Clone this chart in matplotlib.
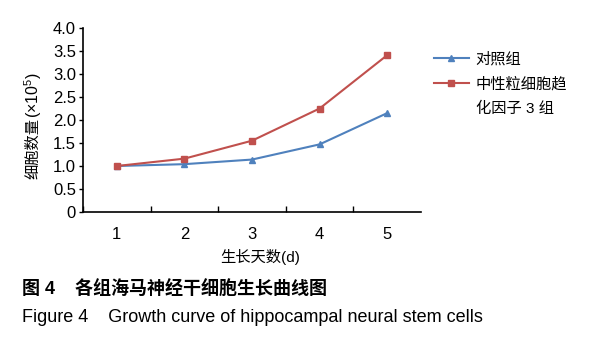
import matplotlib.pyplot as plt
from matplotlib.lines import Line2D

plt.rcParams['font.family'] = ['Liberation Sans', 'Noto Sans CJK SC', 'DejaVu Sans']
plt.rcParams['mathtext.fontset'] = 'custom'
plt.rcParams['mathtext.rm'] = 'Liberation Sans'
plt.rcParams['mathtext.it'] = 'Liberation Sans'

# Data
days = ['1', '2', '3', '4', '5']
control = [1.0, 1.04, 1.14, 1.47, 2.15]
cxcl3 = [1.0, 1.16, 1.55, 2.25, 3.41]
y_ticks = [0, 0.5, 1.0, 1.5, 2.0, 2.5, 3.0, 3.5, 4.0]
y_tick_labels = ['0', '0.5', '1.0', '1.5', '2.0', '2.5', '3.0', '3.5', '4.0']

W, H = 591, 345
fig = plt.figure(figsize=(W / 100, H / 100), dpi=100)
ax = fig.add_axes([83 / W, 1 - 212 / H, (421 - 83) / W, (212 - 28) / H])

blue = '#4F81BD'
red = '#C0504D'
x = list(range(1, len(days) + 1))
ax.plot(x, control, color=blue, marker='^', markersize=5, linewidth=1.5)
ax.plot(x, cxcl3, color=red, marker='s', markersize=5, linewidth=1.5)

ax.set_xlim(0.5, len(days) + 0.5)
ax.set_ylim(0, 4.0)
ax.set_yticks(y_ticks)
ax.set_yticklabels(y_tick_labels, fontsize=12)
ax.set_xticks(x)
ax.set_xticklabels(days, fontsize=12)
ax.tick_params(axis='x', length=0, pad=11)
ax.set_xticks([i + 0.5 for i in range(len(days))], minor=True)
ax.tick_params(axis='x', which='minor', direction='in', length=4, width=1)
ax.tick_params(axis='y', direction='out', length=3, width=1, pad=2)

for s in ['top', 'right']:
    ax.spines[s].set_visible(False)
for s in ['left', 'bottom']:
    ax.spines[s].set_linewidth(1.2)

# y label split so the CJK part and the superscript part both render properly
fig.text(33 / W, 1 - 118 / H, '细胞数量', rotation=90, fontsize=11,
         ha='center', va='top')
fig.text(33 / W, 1 - 118 / H, r'(×10$^5$)', rotation=90, fontsize=11.5,
         ha='center', va='bottom')
fig.text(260 / W, 1 - 257 / H, '生长天数(d)', fontsize=11, ha='center', va='center')

handles = [Line2D([], [], color=blue, marker='^', markersize=5, linewidth=1.5),
           Line2D([], [], color=red, marker='s', markersize=5, linewidth=1.5),
           Line2D([], [], color='none')]
fig.legend(handles, ['对照组', '中性粒细胞趋', '化因子 3 组'],
           loc='upper left', bbox_to_anchor=(426 / W, 1 - 44 / H),
           frameon=False, fontsize=11, handlelength=2.3, handletextpad=0.45,
           labelspacing=0.7, borderpad=0)

fig.text(22 / W, 1 - 290 / H, '图 4    各组海马神经干细胞生长曲线图', fontsize=13,
         fontweight='bold', ha='left', va='center')
fig.text(22 / W, 1 - 318 / H, 'Figure 4    Growth curve of hippocampal neural stem cells',
         fontsize=13, ha='left', va='center')

fig.savefig('out.png', dpi=100)
